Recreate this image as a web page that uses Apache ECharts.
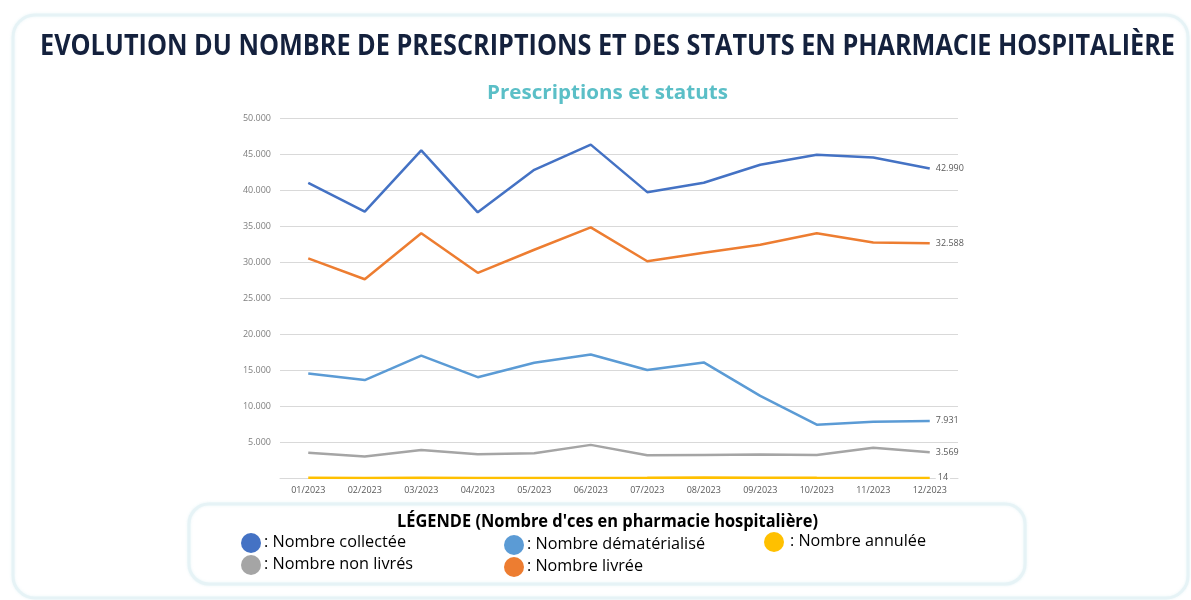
<!DOCTYPE html>
<html>
<head>
<meta charset="utf-8">
<script src="https://cdn.jsdelivr.net/npm/echarts@6/dist/echarts.min.js"></script>
<style>html,body{margin:0;padding:0;background:#fff;}#c{width:1191px;height:600px;}</style>
</head>
<body>
<div id="c"></div>
<script>
const categories = ['01/2023','02/2023','03/2023','04/2023','05/2023','06/2023','07/2023','08/2023','09/2023','10/2023','11/2023','12/2023'];
const collectee = [41000, 37000, 45500, 36900, 42800, 46300, 39700, 41000, 43500, 44900, 44500, 42990];
const livree = [30500, 27600, 34000, 28500, 31700, 34800, 30100, 31300, 32400, 34000, 32700, 32588];
const demat = [14500, 13600, 17000, 14000, 16000, 17150, 15000, 16050, 11400, 7400, 7800, 7931];
const nonLivres = [3500, 3000, 3900, 3300, 3450, 4600, 3150, 3200, 3250, 3200, 4200, 3569];
const annulee = [20, 15, 18, 12, 16, 14, 22, 60, 50, 18, 16, 14];
const yTicks = [0, 5000, 10000, 15000, 20000, 25000, 30000, 35000, 40000, 45000, 50000];

const mainTitle = 'EVOLUTION DU NOMBRE DE PRESCRIPTIONS ET DES STATUTS EN PHARMACIE HOSPITALIÈRE';
const subTitle = 'Prescriptions et statuts';
const legendTitle = "LÉGENDE (Nombre d'ces en pharmacie hospitalière)";
const legendItems = [': Nombre collectée', ': Nombre non livrés', ': Nombre dématérialisé', ': Nombre livrée', ': Nombre annulée'];

function fmt(v){ return String(Math.round(v)).replace(/\B(?=(\d{3})+(?!\d))/g, '.'); }

const mctx = document.createElement('canvas').getContext('2d');
function sx(text, font, target){ mctx.font = font; const w = mctx.measureText(text).width; return target / w; }

const chart = echarts.init(document.getElementById('c'), null, {renderer:'canvas'});

function txt(text, x, y, size, weight, color, target, align){
  const font = weight + ' ' + size + 'px "Open Sans"';
  return {
    type:'text', x:x, y:y, scaleX: sx(text, font, target), z:10,
    style:{ text:text, x:0, y:0, font: font, fill: color, textAlign: align || 'left', textVerticalAlign:'middle' }
  };
}
function dot(x, y, color){
  return { type:'circle', shape:{cx:x, cy:y, r:10}, style:{fill:color}, z:10 };
}

const colors = {collectee:'#4472C4', livree:'#ED7D31', demat:'#5B9BD5', non:'#A5A5A5', ann:'#FFC000'};

function line(name, data, color, labelBg){
  return {
    name:name, type:'line', data:data, symbol:'none', smooth:false,
    lineStyle:{color:color, width:2.5}, itemStyle:{color:color},
    endLabel:{show:true, distance:6, formatter:(p)=>fmt(p.value), color:'#595959', fontSize:9, fontFamily:'Open Sans',
      backgroundColor: labelBg ? '#fff' : 'transparent', padding: labelBg ? [0,2] : 0},
    emphasis:{disabled:true}, animation:false
  };
}

chart.setOption({
  animation:false,
  backgroundColor:'#fff',
  grid:{left:280, right:233, top:118, bottom:122, containLabel:false},
  xAxis:{type:'category', data:categories, boundaryGap:true,
    axisLine:{show:true, lineStyle:{color:'#d9d9d9', width:1}}, axisTick:{show:false},
    axisLabel:{color:'#595959', fontSize:9, fontFamily:'Open Sans', margin:8}},
  yAxis:{type:'value', min:yTicks[0], max:yTicks[yTicks.length-1], interval:yTicks[1]-yTicks[0],
    axisLine:{show:false}, axisTick:{show:false},
    splitLine:{show:true, lineStyle:{color:'#d9d9d9', width:1}},
    axisLabel:{color:'#7f7f7f', fontSize:9, fontFamily:'Open Sans', formatter:(v)=>fmt(v), showMinLabel:false, margin:9}},
  series:[
    line('Nombre collectée', collectee, colors.collectee),
    line('Nombre livrée', livree, colors.livree),
    line('Nombre dématérialisé', demat, colors.demat),
    line('Nombre non livrés', nonLivres, colors.non),
    line('Nombre annulée', annulee, colors.ann, true)
  ],
  graphic:[
    {type:'rect', shape:{x:13, y:15, width:1175, height:583, r:22}, style:{fill:'none', stroke:'#e6f3f6', lineWidth:3, shadowBlur:3, shadowColor:'rgba(200,230,238,0.4)'}, z:1},
    txt(mainTitle, 40, 47, 28, '700', '#14213d', 1135),
    txt(subTitle, 487, 93, 20, '700', '#5bbfc7', 241),
    {type:'rect', shape:{x:189, y:504, width:836, height:80, r:20}, style:{fill:'#fff', stroke:'#e6f3f6', lineWidth:3, shadowBlur:3, shadowColor:'rgba(200,230,238,0.4)'}, z:5},
    txt(legendTitle, 397, 522, 17, '700', '#000', 421),
    dot(251, 543, colors.collectee), txt(legendItems[0], 264, 542, 16, '400', '#000', 142),
    dot(251, 565, colors.non), txt(legendItems[1], 264, 564, 16, '400', '#000', 149),
    dot(514, 545, colors.demat), txt(legendItems[2], 527, 544, 16, '400', '#000', 178),
    dot(514, 567, colors.livree), txt(legendItems[3], 527, 566, 16, '400', '#000', 116),
    dot(774, 542, colors.ann), txt(legendItems[4], 790, 541, 16, '400', '#000', 136)
  ]
});
</script>
</body>
</html>
